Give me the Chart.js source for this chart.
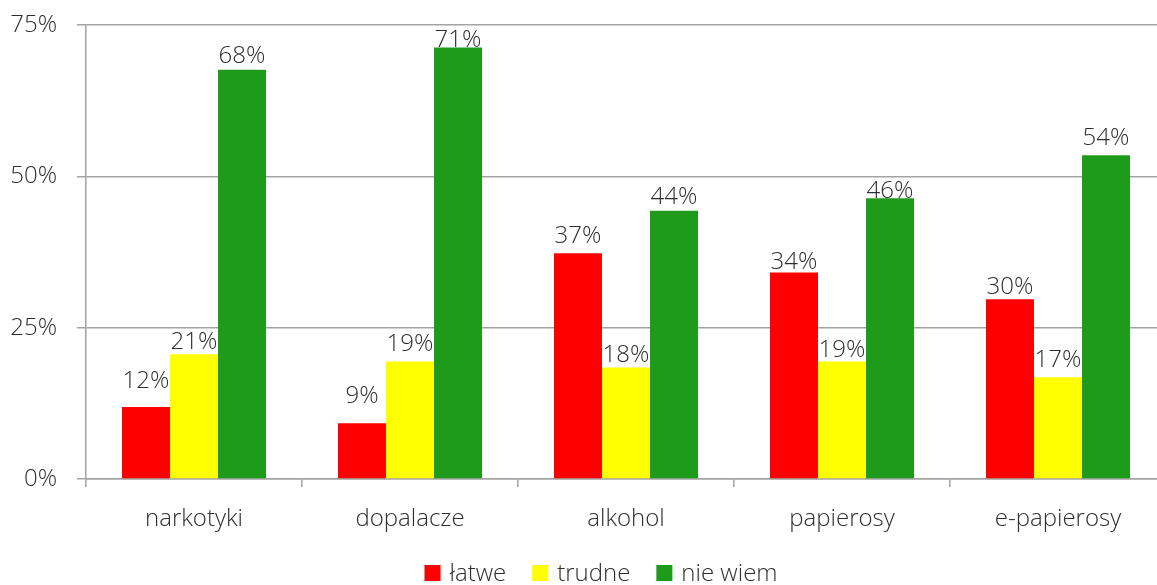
<!DOCTYPE html>
<html>
<head>
<meta charset="utf-8">
<script src="https://cdn.jsdelivr.net/npm/chart.js@4.4.1/dist/chart.umd.min.js"></script>
<style>
  html, body { margin: 0; padding: 0; background: #fff; overflow: hidden; }
  #wrap { position: relative; width: 1166px; height: 585px; }
</style>
</head>
<body>
<div id="wrap"><canvas id="c"></canvas></div>
<script>
// ---- data ----
const categories = ['narkotyki', 'dopalacze', 'alkohol', 'papierosy', 'e-papierosy'];
const seriesNames = ['łatwe', 'trudne', 'nie wiem'];
const latwe   = [11.9, 9.2, 37.3, 34.1, 29.7];
const trudne  = [20.6, 19.4, 18.4, 19.4, 16.8];
const nieWiem = [67.6, 71.3, 44.3, 46.4, 53.5];
const yTicks = [0, 25, 50, 75];

// ---- style ----
const colors = ['#FF0000', '#FFFF00', '#1E9B1A'];
const textColor = '#2e2e2e';
const gridColor = '#a3a3a3';
const fontFamily = '"Open Sans", "Segoe UI", sans-serif';
const fontSize = 24;
const fontWeight = 350;
// label gap above each bar (px), per series
const labelGaps = [[19, 20, 10, 4, 5], [5, 11, 6, 5, 10], [7, 0, 7, 0, 10]];

const fontStr = () => fontWeight + ' ' + fontSize + 'px ' + fontFamily;

const dataLabels = {
  id: 'dataLabels',
  afterDatasetsDraw(chart) {
    const ctx = chart.ctx;
    const area = chart.chartArea;
    ctx.save();
    ctx.font = fontStr();
    ctx.fillStyle = textColor;
    ctx.textAlign = 'center';
    ctx.textBaseline = 'alphabetic';
    chart.data.datasets.forEach((ds, di) => {
      const meta = chart.getDatasetMeta(di);
      meta.data.forEach((bar, i) => {
        const v = ds.data[i];
        let y = bar.y - labelGaps[di][i];
        y = Math.max(y, area.top + 22);
        ctx.fillText(Math.round(v) + '%', bar.x, y);
      });
    });
    ctx.restore();
  }
};

const customLegend = {
  id: 'customLegend',
  afterDraw(chart) {
    const ctx = chart.ctx;
    ctx.save();
    ctx.font = fontStr();
    const box = 16, gapText = 9, gapItem = 26;
    const items = chart.data.datasets.map(ds => ({
      label: ds.label, color: ds.backgroundColor, w: ctx.measureText(ds.label).width
    }));
    let total = 0;
    items.forEach((it, i) => { total += box + gapText + it.w + (i < items.length - 1 ? gapItem : 0); });
    const centerX = 601;
    let x = centerX - total / 2;
    const baseline = 581;
    items.forEach(it => {
      ctx.fillStyle = it.color;
      ctx.fillRect(x, 565, box, box);
      x += box + gapText;
      ctx.fillStyle = textColor;
      ctx.textAlign = 'left';
      ctx.textBaseline = 'alphabetic';
      ctx.fillText(it.label, x, baseline);
      x += it.w + gapItem;
    });
    ctx.restore();
  }
};

const seriesData = [latwe, trudne, nieWiem];

new Chart(document.getElementById('c'), {
  type: 'bar',
  data: {
    labels: categories,
    datasets: seriesNames.map((name, i) => ({
      label: name,
      data: seriesData[i],
      backgroundColor: colors[i],
      borderWidth: 0,
      categoryPercentage: 144 / 216,
      barPercentage: 1.0
    }))
  },
  options: {
    responsive: true,
    maintainAspectRatio: false,
    animation: false,
    layout: { padding: { top: 25, left: 0, right: 0, bottom: 0 } },
    plugins: {
      legend: { display: false },
      tooltip: { enabled: false }
    },
    scales: {
      x: {
        grid: {
          display: true,
          drawOnChartArea: false,
          drawTicks: true,
          tickLength: 8,
          offset: true,
          color: gridColor,
          lineWidth: 1.5
        },
        border: { display: true, color: gridColor, width: 1.5 },
        ticks: {
          color: textColor,
          font: { family: fontFamily, size: fontSize, weight: fontWeight },
          padding: 18,
          maxRotation: 0
        },
        afterFit(scale) { scale.height = 106; scale.paddingLeft = 0; scale.paddingRight = 0; }
      },
      y: {
        min: 0,
        max: 75,
        afterBuildTicks(scale) { scale.ticks = yTicks.map(v => ({ value: v })); },
        grid: {
          color: gridColor,
          lineWidth: 1.5,
          drawTicks: true,
          tickLength: 9
        },
        border: { display: true, color: gridColor, width: 1.5 },
        ticks: {
          color: textColor,
          font: { family: fontFamily, size: fontSize, weight: fontWeight },
          padding: 20,
          callback: v => v + '%'
        },
        afterFit(scale) { scale.width = 86; scale.paddingTop = 0; scale.paddingBottom = 0; }
      }
    }
  },
  plugins: [dataLabels, customLegend]
});
</script>
</body>
</html>
